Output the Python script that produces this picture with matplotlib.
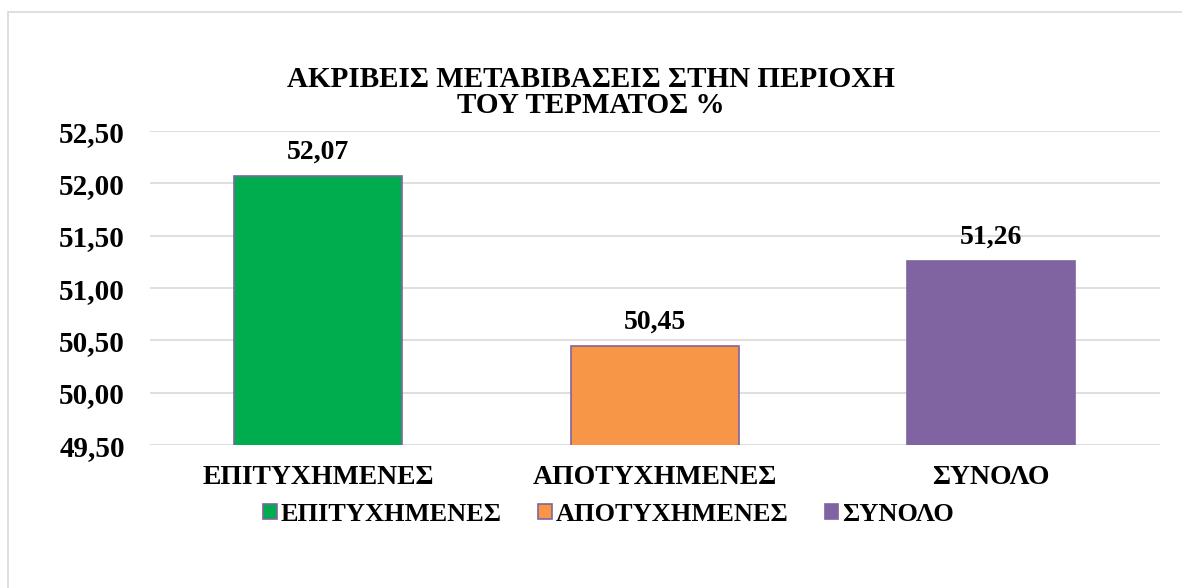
import matplotlib.pyplot as plt
from matplotlib.patches import Rectangle

categories = ['ΕΠΙΤΥΧΗΜΕΝΕΣ', 'ΑΠΟΤΥΧΗΜΕΝΕΣ', 'ΣΥΝΟΛΟ']
values = [52.07, 50.45, 51.26]
colors = ['#00AD4E', '#F79646', '#8064A2']
yticks = [49.5, 50.0, 50.5, 51.0, 51.5, 52.0, 52.5]

plt.rcParams['font.family'] = ['Liberation Serif', 'DejaVu Serif']
plt.rcParams['font.weight'] = 'bold'

fig = plt.figure(figsize=(11.82, 5.88), dpi=100)
ax = fig.add_axes([0.127, 0.243, 0.854, 0.534])

# outer chart frame (cropped at right and bottom)
fig.patches.append(Rectangle((8 / 1182, -0.05), 1.2, 1 - 12 / 588 + 0.05,
                             transform=fig.transFigure, fill=False,
                             edgecolor='#D9D9D9', linewidth=1.2))

x = range(len(categories))
bars = ax.bar(x, values, width=0.5, color=colors, edgecolor='#8064A2',
              linewidth=1.2, zorder=3)
for b, v in zip(bars, values):
    ax.text(b.get_x() + b.get_width() / 2, v + 0.11, f'{v:.2f}'.replace('.', ','),
            ha='center', va='bottom', fontsize=20, fontweight='bold')

ax.set_ylim(49.5, 52.5)
ax.set_xlim(-0.5, 2.5)
ax.set_yticks(yticks)
ax.set_yticklabels([f'{t:.2f}'.replace('.', ',') for t in yticks])
ax.set_xticks(list(x))
ax.set_xticklabels(categories, fontsize=20)
ax.tick_params(axis='y', labelsize=21, length=0, pad=18)
ax.tick_params(axis='x', length=0, pad=14)
ax.grid(axis='y', color='#D9D9D9', linewidth=1.2, zorder=0)
for s in ax.spines.values():
    s.set_visible(False)

fig.text(0.5, 0.843, 'ΑΚΡΙΒΕΙΣ ΜΕΤΑΒΙΒΑΣΕΙΣ ΣΤΗΝ ΠΕΡΙΟΧΗ\nΤΟΥ ΤΕΡΜΑΤΟΣ %',
         ha='center', va='center', fontsize=21, fontweight='bold',
         linespacing=0.95)

fig.legend(handles=list(bars), labels=categories, loc='center',
           bbox_to_anchor=(0.515, 0.125), ncol=3, frameon=False,
           fontsize=19, handlelength=0.5, handleheight=0.5,
           handletextpad=0.15, columnspacing=1.4)

fig.savefig('out.png', dpi=100)
